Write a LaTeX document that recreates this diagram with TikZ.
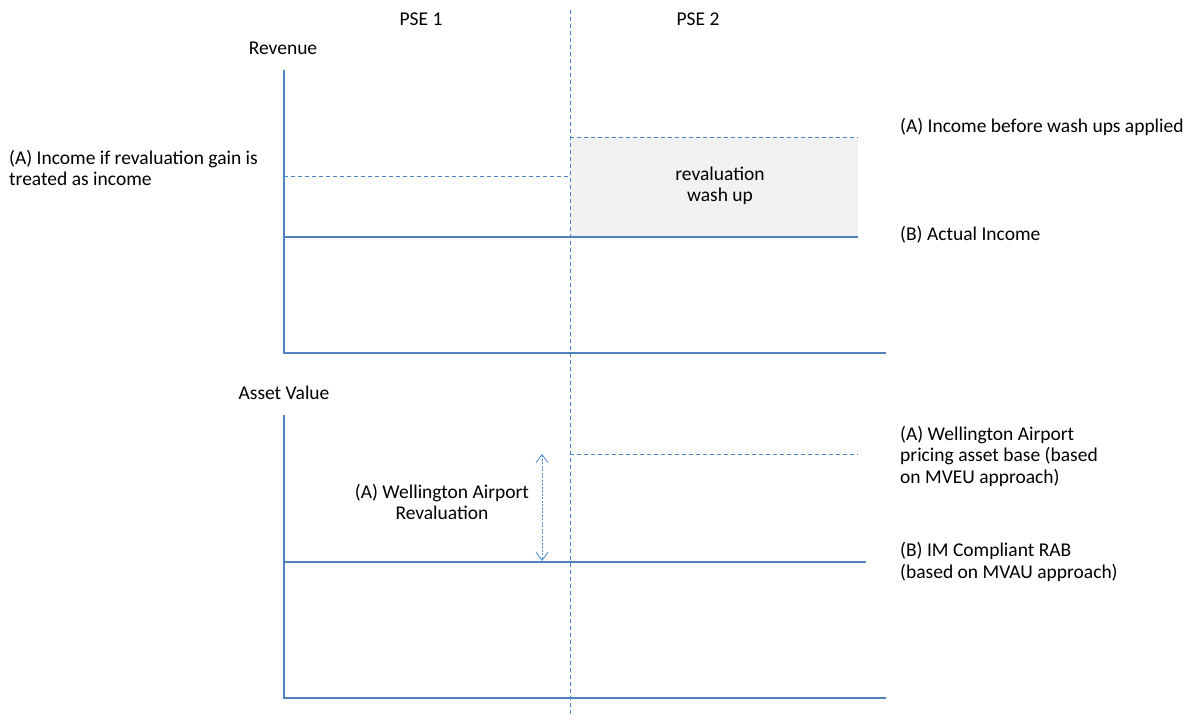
\documentclass[tikz,border=0pt]{standalone}
\usepackage{fontspec}
\setmainfont{Carlito}
\usetikzlibrary{arrows.meta}
\definecolor{lineblue}{HTML}{4F81BD}
\definecolor{dashblue}{HTML}{4A86D0}
\definecolor{washgray}{HTML}{F2F2F2}
\begin{document}
\begin{tikzpicture}[x=1pt,y=-1pt,
  every node/.style={font=\fontsize{19.5}{21.5}\selectfont, inner sep=0pt},
  axisline/.style={draw=lineblue, line width=1.1pt},
  levelline/.style={draw=lineblue, line width=1.1pt},
  dashline/.style={draw=dashblue, line width=0.9pt, dash pattern=on 4pt off 3pt},
  lbl/.style={anchor=west, align=left},
  ctr/.style={anchor=center, align=center}]
\useasboundingbox (0,0) rectangle (1189,715);
% shaded wash up region
\fill[washgray] (570,137) rectangle (858,237);
% divider
\coordinate (divT) at (570,10);
\coordinate (divB) at (570,715);
\draw[dashline] (divT) -- (divB);
% headers
\node[ctr] (pse1) at (421,19) {PSE 1};
\node[ctr] (pse2) at (698,19) {PSE 2};
% revenue chart
\node[ctr] (rev) at (283,48) {Revenue};
\coordinate (rO) at (284,353);
\coordinate (rT) at (284,70);
\coordinate (rR) at (886,353);
\draw[axisline] (rT) -- (rO) -- (rR);
\coordinate (aL) at (284,176);
\coordinate (aR) at (570,176);
\draw[dashline] (aL) -- (aR);
\coordinate (bL) at (570,137);
\coordinate (bR) at (858,137);
\draw[dashline] (bL) -- (bR);
\coordinate (cL) at (284,237);
\coordinate (cR) at (858,237);
\draw[levelline] (cL) -- (cR);
\node[ctr] (wash) at (720,186) {revaluation\\wash up};
\node[lbl] (incA) at (900,127) {(A) Income before wash ups applied};
\node[lbl] (incIf) at (9,168) {(A) Income if revaluation gain is\\treated as income};
\node[lbl] (incB) at (900,235) {(B) Actual Income};
% asset chart
\node[ctr] (asset) at (284,393) {Asset Value};
\coordinate (sO) at (284,698);
\coordinate (sT) at (284,415);
\coordinate (sR) at (886,698);
\draw[axisline] (sT) -- (sO) -- (sR);
\coordinate (dL) at (284,562);
\coordinate (dR) at (866,562);
\draw[levelline] (dL) -- (dR);
\coordinate (eL) at (570,454);
\coordinate (eR) at (858,454);
\draw[dashline] (eL) -- (eR);
\coordinate (arT) at (542,454);
\coordinate (arB) at (542,561);
\draw[draw=dashblue, line width=0.8pt, dash pattern=on 2pt off 1.5pt,
  {Straight Barb[length=8pt,width=12pt]}-{Straight Barb[length=8pt,width=12pt]}] (arT) -- (arB);
\node[ctr] (reval) at (442,502) {(A) Wellington Airport\\Revaluation};
\node[lbl] (pab) at (900,456) {(A) Wellington Airport\\pricing asset base (based\\on MVEU approach)};
\node[lbl] (rab) at (900,562) {(B) IM Compliant RAB\\(based on MVAU approach)};
\end{tikzpicture}
\end{document}
